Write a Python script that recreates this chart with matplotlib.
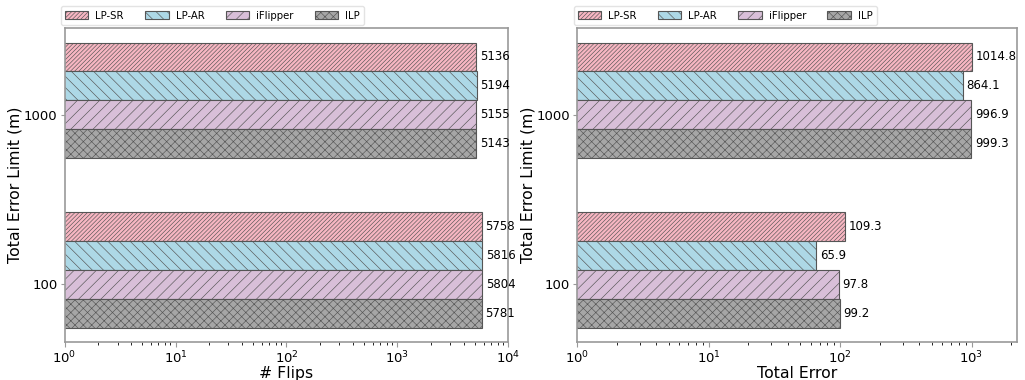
import matplotlib
matplotlib.use("Agg")
import matplotlib.pyplot as plt
import numpy as np

plt.rcParams['hatch.linewidth'] = 0.45

limits = ['100', '1000']
methods = ['LP-SR', 'LP-AR', 'iFlipper', 'ILP']
colors = ['#f7b6c2', '#add8e6', '#d8bfd8', '#a6a6a6']
hatches = ['////////', '\\\\\\', '///', 'xxxx']

# rows: methods, columns: limits (100, 1000)
flips = [[5758, 5136],
         [5816, 5194],
         [5804, 5155],
         [5781, 5143]]
total_error = [[109.3, 1014.8],
               [65.9, 864.1],
               [97.8, 996.9],
               [99.2, 999.3]]
flip_labels = [['5758', '5136'], ['5816', '5194'], ['5804', '5155'], ['5781', '5143']]
error_labels = [['109.3', '1014.8'], ['65.9', '864.1'], ['97.8', '996.9'], ['99.2', '999.3']]

w = 0.17
offsets = [2, 1, 0, -1]
y = np.arange(len(limits))

fig = plt.figure(figsize=(10.25, 3.8), dpi=100)
ax1 = fig.add_axes([0.063, 0.1, 0.433, 0.826])
ax2 = fig.add_axes([0.563, 0.1, 0.429, 0.826])

panels = [(ax1, flips, flip_labels, '# Flips', (1, 1e4)),
          (ax2, total_error, error_labels, 'Total Error', (1, 2210))]

for ax, vals, labels, xlabel, xlim in panels:
    for i, m in enumerate(methods):
        bars = ax.barh(y + offsets[i] * w, vals[i], height=w, left=0,
                       color=colors[i], hatch=hatches[i], edgecolor='#555555',
                       linewidth=0.8, label=m)
        for b, t in zip(bars, labels[i]):
            ax.annotate(t, (b.get_width(), b.get_y() + w / 2),
                        xytext=(2.5, 0), textcoords='offset points',
                        va='center', ha='left', fontsize=8.5)
    ax.set_xscale('log')
    ax.set_xlim(*xlim)
    ax.set_ylim(-1.5 * w - 0.5 * w, 1 + 2.5 * w + 0.5 * w)
    ax.set_yticks(y)
    ax.set_yticklabels(limits, fontsize=9.5)
    ax.tick_params(axis='x', labelsize=9.5, color='#999999', pad=2)
    ax.tick_params(axis='y', color='#999999', length=3, pad=2)
    ax.set_xlabel(xlabel, fontsize=11.3, labelpad=0)
    ax.set_ylabel('Total Error Limit (m)', fontsize=11.3, labelpad=1)
    for s in ax.spines.values():
        s.set_color('#999999')
        s.set_linewidth(1.2)
    ax.legend(loc='lower left', bbox_to_anchor=(-0.016, 1.0), ncol=4,
              fontsize=7.3, frameon=True, edgecolor='#dddddd',
              handlelength=2.3, handleheight=0.7, handletextpad=0.7,
              columnspacing=2.1, borderaxespad=0.35, borderpad=0.4)

fig.savefig('out.png', dpi=100)
